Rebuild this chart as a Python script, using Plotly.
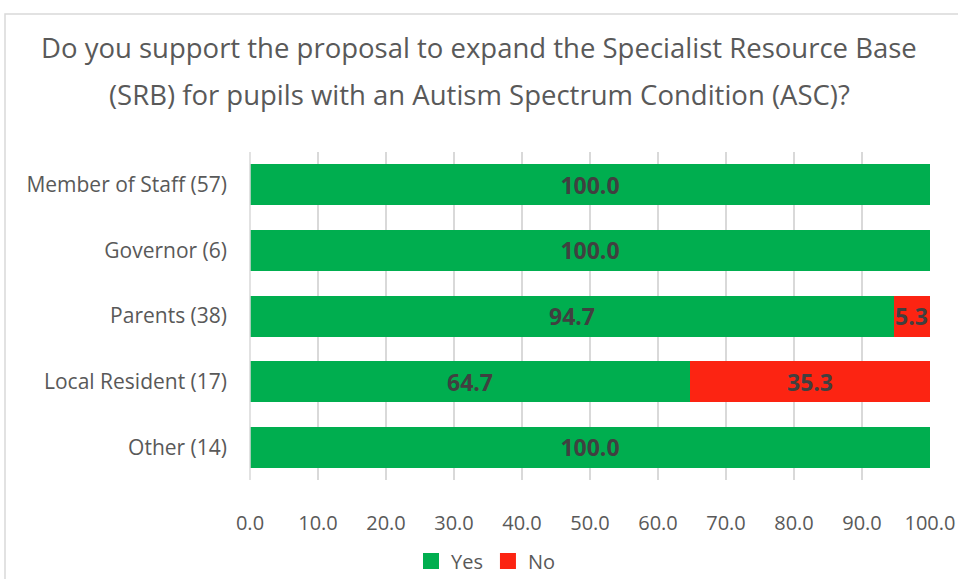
import plotly.graph_objects as go

categories = ["Member of Staff (57)", "Governor (6)", "Parents (38)", "Local Resident (17)", "Other (14)"]
yes_values = [100.0, 100.0, 94.7, 64.7, 100.0]
no_values = [0.0, 0.0, 5.3, 35.3, 0.0]
tick_vals = [0, 10, 20, 30, 40, 50, 60, 70, 80, 90, 100]
tick_text = [f"{v:.1f}" for v in tick_vals]
title_lines = ["Do you support the proposal to expand the Specialist Resource Base",
               "(SRB) for pupils with an Autism Spectrum Condition (ASC)?"]
series_names = ["Yes", "No"]

GREEN = "#00AE4F"
RED = "#FC2412"
FONT = "Open Sans"
TXT = "#595959"
LBL = "#404040"
LBL_FONT = dict(family=FONT, size=23, color=LBL, weight="bold")

def labels(vals):
    return [f"{v:.1f}" if v > 0 else "" for v in vals]

fig = go.Figure()
fig.add_trace(go.Bar(
    y=categories, x=yes_values, name=series_names[0], orientation="h",
    marker=dict(color=GREEN, line=dict(width=0)),
    text=labels(yes_values), textposition="inside", insidetextanchor="middle",
    textangle=0, textfont=LBL_FONT,
    constraintext="none", hoverinfo="x+name", showlegend=False,
))
fig.add_trace(go.Bar(
    y=categories, x=no_values, name=series_names[1], orientation="h",
    marker=dict(color=RED, line=dict(width=0)),
    hoverinfo="x+name", showlegend=False,
))
# legend entries
for name, col in [(series_names[0], GREEN), (series_names[1], RED)]:
    fig.add_trace(go.Scatter(
        x=[None], y=[None], mode="markers", name=name,
        marker=dict(symbol="square", size=17, color=col),
        showlegend=True, hoverinfo="skip",
    ))

L, R, T, B = 250, 28, 152, 99
W, H = 958, 579
pw = W - L - R
ph = H - T - B

def py(ypx):
    return ((H - B) - ypx) / ph

def px(xpx):
    return (xpx - L) / pw

annotations = []
for line, ycen in zip(title_lines, [48, 95]):
    annotations.append(dict(
        text=line, xref="paper", yref="paper", x=px(W / 2), y=py(ycen),
        xanchor="center", yanchor="middle", showarrow=False,
        font=dict(family=FONT, size=27.5, color=TXT),
    ))
# data labels for the "No" segments (full-size, like the reference)
for cat, yv, nv in zip(categories, yes_values, no_values):
    if nv <= 0:
        continue
    narrow = nv < 10
    annotations.append(dict(
        text=f"{nv:.1f}", xref="x", yref="y",
        x=yv + nv if narrow else yv + nv / 2, y=cat,
        xanchor="right" if narrow else "center", yanchor="middle",
        showarrow=False, font=LBL_FONT,
    ))

fig.update_layout(
    width=W, height=H,
    barmode="stack", bargap=0.375,
    margin=dict(l=L, r=R, t=T, b=B, pad=0, autoexpand=False),
    paper_bgcolor="white", plot_bgcolor="white",
    font=dict(family=FONT, color=TXT, size=20),
    annotations=annotations,
    xaxis=dict(
        range=[0, 100], tickvals=tick_vals, ticktext=tick_text,
        showgrid=True, gridcolor="#D9D9D9", gridwidth=1.5,
        zeroline=False, showline=False, ticks="",
        tickfont=dict(family=FONT, size=20, color=TXT),
        ticklabelstandoff=29, automargin=False,
        fixedrange=True,
    ),
    yaxis=dict(
        categoryorder="array", categoryarray=categories, autorange="reversed",
        showgrid=False, zeroline=False, showline=False, ticks="",
        tickfont=dict(family=FONT, size=21, color=TXT),
        ticklabelstandoff=22, automargin=False,
        fixedrange=True,
    ),
    legend=dict(
        orientation="h", x=486 / W, xref="container", xanchor="center",
        y=(H - 561) / H, yref="container", yanchor="middle",
        font=dict(family=FONT, size=20, color=TXT),
        traceorder="normal", itemwidth=30, tracegroupgap=0,
    ),
    shapes=[
        dict(type="line", xref="paper", yref="paper",
             x0=0, x1=0, y0=0, y1=1, line=dict(color="#D9D9D9", width=1.5)),
        dict(type="rect", xref="paper", yref="paper",
             x0=px(5), x1=px(W + 5), y0=py(H + 5), y1=py(14),
             line=dict(color="#D9D9D9", width=1.5), fillcolor="rgba(0,0,0,0)", layer="below"),
    ],
)

fig.write_html("out.html", config={"displayModeBar": False},
               post_script="document.body.style.margin='0';document.body.style.overflow='hidden';")
